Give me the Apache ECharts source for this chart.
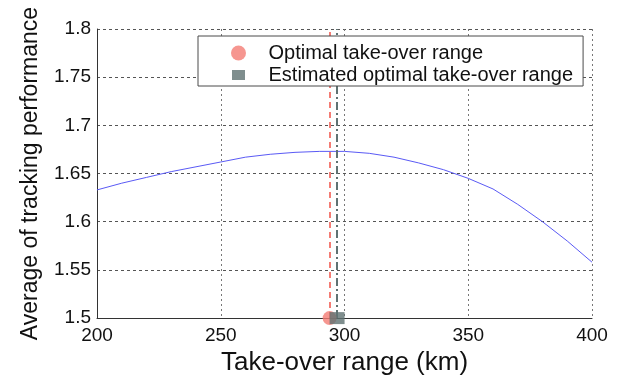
<!DOCTYPE html>
<html>
<head>
<meta charset="utf-8">
<script src="https://cdn.jsdelivr.net/npm/echarts@6/dist/echarts.min.js"></script>
<style>
  html, body { margin: 0; padding: 0; background: #fff; }
  #chart { width: 624px; height: 381px; }
</style>
</head>
<body>
<div id="chart"></div>
<script>
// Take-over range (km) sampled along the curve
const ranges = [200, 210, 220, 230, 240, 250, 260, 270, 280, 290, 300,
                310, 320, 330, 340, 350, 360, 370, 380, 390, 400];
// Average of tracking performance at each range
const performance = [1.633, 1.640, 1.646, 1.652, 1.657, 1.662, 1.667, 1.670, 1.672, 1.673, 1.673,
                     1.671, 1.667, 1.661, 1.654, 1.645, 1.634, 1.618, 1.600, 1.580, 1.558];
// Optimal and estimated optimal take-over range
const optimalRange = 294;
const estimatedRange = 297;
const baseline = 1.5;
const seriesNames = ['Optimal take-over range', 'Estimated optimal take-over range'];

const FONT = 'Liberation Sans, Arial, sans-serif';
// square legend icon with transparent margin above and below so it stays flatter than the circle
const SQUARE_ICON = 'path://M0,-2.5M13,12.5M0,0H13V10H0Z';

const chart = echarts.init(document.getElementById('chart'), null, { renderer: 'canvas' });

chart.setOption({
  animation: false,
  backgroundColor: '#ffffff',
  grid: { left: 97, right: 32, top: 29, bottom: 56, containLabel: false },
  legend: {
    data: [
      { name: seriesNames[0], icon: 'circle' },
      { name: seriesNames[1], icon: SQUARE_ICON }
    ],
    orient: 'vertical',
    left: 198,
    top: 36,
    z: 20,
    padding: [7, 10, 1, 33],
    itemWidth: 50,
    itemHeight: 15,
    itemGap: 2,
    backgroundColor: '#ffffff',
    borderColor: '#4a4a4a',
    borderWidth: 1,
    borderRadius: 0,
    textStyle: { fontFamily: FONT, fontSize: 20, color: '#111', lineHeight: 20 }
  },
  xAxis: {
    type: 'value',
    min: 200, max: 400, interval: 50,
    name: 'Take-over range (km)',
    nameLocation: 'middle',
    nameGap: 23,
    nameTextStyle: { fontFamily: FONT, fontSize: 26, color: '#111' },
    axisLine: { show: true, lineStyle: { color: '#333', width: 1 } },
    axisTick: { show: false },
    axisLabel: { fontFamily: FONT, fontSize: 19, color: '#111', margin: 8 },
    splitLine: { show: true, lineStyle: { color: '#777', type: [2, 3], width: 1 } }
  },
  yAxis: {
    type: 'value',
    min: 1.5, max: 1.8, interval: 0.05,
    name: 'Average of tracking performance',
    nameLocation: 'middle',
    nameGap: 55,
    nameTextStyle: { fontFamily: FONT, fontSize: 23, color: '#111' },
    axisLine: { show: true, lineStyle: { color: '#333', width: 1 } },
    axisTick: { show: false },
    axisLabel: { fontFamily: FONT, fontSize: 19, color: '#111', margin: 6 },
    splitLine: { show: true, lineStyle: { color: '#555', type: [3, 3], width: 1 } }
  },
  series: [
    {
      name: 'curve',
      type: 'line',
      data: ranges.map((r, i) => [r, performance[i]]),
      showSymbol: false,
      smooth: false,
      lineStyle: { color: '#5a5af5', width: 1 },
      z: 3
    },
    {
      name: seriesNames[0],
      type: 'scatter',
      data: [[optimalRange, baseline]],
      symbol: 'circle',
      symbolSize: 14,
      itemStyle: { color: '#f47c74' },
      z: 5,
      markLine: {
        silent: true,
        symbol: 'none',
        label: { show: false },
        lineStyle: { color: '#f47c74', type: [6, 4], width: 2 },
        data: [{ xAxis: optimalRange }]
      }
    },
    {
      name: seriesNames[1],
      type: 'scatter',
      data: [[estimatedRange, baseline]],
      symbol: 'rect',
      symbolSize: [15, 12],
      itemStyle: { color: '#5f7272' },
      z: 6,
      markLine: {
        silent: true,
        symbol: 'none',
        label: { show: false },
        lineStyle: { color: '#5f7272', type: [8, 3, 2, 3], width: 2 },
        data: [{ xAxis: estimatedRange }]
      }
    }
  ]
});
</script>
</body>
</html>
